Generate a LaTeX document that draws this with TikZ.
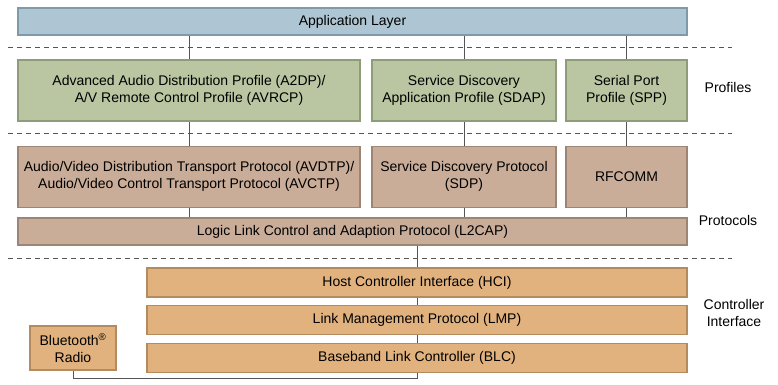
\documentclass[tikz,border=0pt]{standalone}
\usepackage{fontspec}
\setmainfont{Liberation Sans}
\usetikzlibrary{positioning,backgrounds}

\definecolor{appfill}{HTML}{AEC6D3}
\definecolor{appdraw}{HTML}{7F9AAA}
\definecolor{proffill}{HTML}{B9C6A1}
\definecolor{profdraw}{HTML}{8E9C7A}
\definecolor{protfill}{HTML}{C9AD98}
\definecolor{protdraw}{HTML}{9E8472}
\definecolor{ctrlfill}{HTML}{E2B27E}
\definecolor{ctrldraw}{HTML}{B38B5E}
\definecolor{linegray}{HTML}{555555}

\begin{document}
\begin{tikzpicture}[x=1pt,y=-1pt,font=\fontsize{14}{17}\selectfont]
\useasboundingbox (0,0) rectangle (778,384);
\begin{scope}
\tikzstyle{box}=[rectangle, line width=1.2pt, inner sep=0pt, align=center]
\tikzstyle{app}=[box, draw=appdraw, fill=appfill, minimum width=669pt, minimum height=27pt]
\tikzstyle{profile}=[box, draw=profdraw, fill=proffill, minimum height=61pt]
\tikzstyle{protocol}=[box, draw=protdraw, fill=protfill, minimum height=61pt]
\tikzstyle{ctrl}=[box, draw=ctrldraw, fill=ctrlfill, minimum width=540pt, minimum height=29pt, node distance=7.5pt]
\tikzstyle{sep}=[draw=linegray, dashed, dash pattern=on 5pt off 4pt, line width=0.8pt]
\tikzstyle{wire}=[draw=linegray, line width=0.8pt]
\tikzstyle{side}=[align=center]

\node[app] (app) at (352.5,21.5) {Application Layer};

\node[profile, minimum width=342pt] (a2dp) at (189,90.5) {Advanced Audio Distribution Profile (A2DP)/\\A/V Remote Control Profile (AVRCP)};
\node[profile, minimum width=184pt] (sdap) at (464,90.5) {Service Discovery\\Application Profile (SDAP)};
\node[profile, minimum width=121pt] (spp) at (626.5,90.5) {Serial Port\\Profile (SPP)};

\node[protocol, minimum width=342pt] (avdtp) [below=24pt of a2dp] {Audio/Video Distribution Transport Protocol (AVDTP)/\\Audio/Video Control Transport Protocol (AVCTP)};
\node[protocol, minimum width=184pt] (sdp) [below=24pt of sdap] {Service Discovery Protocol\\(SDP)};
\node[protocol, minimum width=121pt] (rfcomm) [below=24pt of spp] {RFCOMM};

\node[box, draw=protdraw, fill=protfill, minimum width=669pt, minimum height=27pt] (l2cap) at (352.5,231.5) {Logic Link Control and Adaption Protocol (L2CAP)};

\node[ctrl] (hci) at (417,282.5) {Host Controller Interface (HCI)};
\node[ctrl] (lmp) [below=of hci] {Link Management Protocol (LMP)};
\node[ctrl] (blc) [below=of lmp] {Baseband Link Controller (BLC)};

\node[box, draw=ctrldraw, fill=ctrlfill, minimum width=86pt, minimum height=44pt] (radio) at (73,348) {Bluetooth\textsuperscript{\textregistered}\\Radio};

\node[side] (profiles) at (728,87) {Profiles};
\node[side] (protocols) at (728,220) {Protocols};
\node[side] (ctrlif) at (734,313) {Controller\\Interface};

\coordinate (bus) at (hci.center |- 0,378);

\begin{scope}[on background layer]
\draw[sep] (8,47) -- (732,47);
\draw[sep] (8,133) -- (732,133);
\draw[sep] (8,258) -- (732,258);
\draw[wire] (app.south -| a2dp.north) -- (a2dp.north);
\draw[wire] (app.south -| sdap.north) -- (sdap.north);
\draw[wire] (app.south -| spp.north) -- (spp.north);
\draw[wire] (a2dp.south) -- (avdtp.north);
\draw[wire] (sdap.south) -- (sdp.north);
\draw[wire] (spp.south) -- (rfcomm.north);
\draw[wire] (avdtp.south) -- (l2cap.north -| avdtp.south);
\draw[wire] (sdp.south) -- (l2cap.north -| sdp.south);
\draw[wire] (rfcomm.south) -- (l2cap.north -| rfcomm.south);
\draw[wire] (l2cap.south -| bus) -- (bus) -| (radio.south);
\end{scope}
\end{scope}
\end{tikzpicture}
\end{document}
